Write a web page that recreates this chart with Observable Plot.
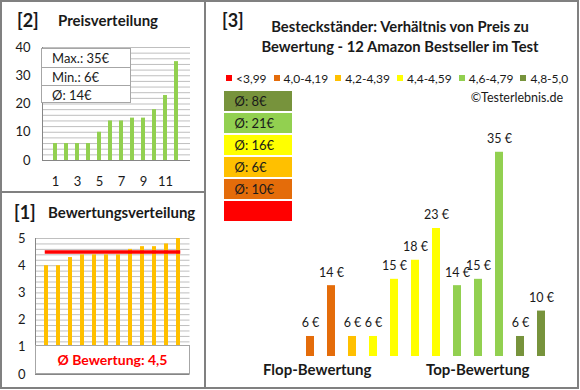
<!DOCTYPE html>
<html><head><meta charset="utf-8">
<script src="https://cdn.jsdelivr.net/npm/d3@7"></script>
<script src="https://cdn.jsdelivr.net/npm/@observablehq/plot@0.6"></script>
<style>
body{margin:0;background:#fff;}
#root{position:relative;width:580px;height:390px;font-family:Lato,"Open Sans",sans-serif;color:#111;overflow:hidden;background:#fff;}
.abs{position:absolute;}
.t{position:absolute;white-space:nowrap;}
</style></head><body><div id="root"></div>
<script>
// ---- data ----
const priceRanks = [1,2,3,4,5,6,7,8,9,10,11,12];
const sortedPrices = [6,6,6,6,10,14,14,15,15,18,23,35];
const sortedRatings = [4.0,4.0,4.3,4.4,4.4,4.4,4.4,4.6,4.7,4.7,4.8,5.0];
const priceStats = ["Max.: 35€","Min.: 6€","Ø: 14€"];
const avgRating = 4.5;
const avgRatingLabel = "Ø Bewertung: 4,5";
const productPrices = [6,14,6,6,15,18,23,14,15,35,6,10];
const productClass = [1,1,2,3,3,3,3,4,4,4,5,5];
const ratingClasses = ["<3,99","4,0-4,19","4,2-4,39","4,4-4,59","4,6-4,79","4,8-5,0"];
const classColors = ["#FF0000","#E46C0A","#FFC000","#FFFF00","#92D050","#77933C"];
const classAvgLabels = ["","Ø: 10€","Ø: 6€","Ø: 16€","Ø: 21€","Ø: 8€"];
const priceTicks = [0,10,20,30,40];
const rankTicks = [1,3,5,7,9,11];
const ratingTicks = [0,1,2,3,4,5];

const root = document.getElementById("root");
function add(el, css){ Object.assign(el.style, css); root.appendChild(el); return el; }
function div(css, text, cls){ const d=document.createElement("div"); d.className=cls||"abs"; if(text!==undefined) d.textContent=text; return add(d, css); }
function place(svg, left, top){ svg.style.position="absolute"; svg.style.left=left+"px"; svg.style.top=top+"px"; root.appendChild(svg); }
const font = "Lato";
const txt = "#1a1a1a";

// ---- Panel 2: Preisverteilung ----
const p2 = Plot.plot({
  width: 200, height: 192,
  marginLeft: 42, marginRight: 10, marginTop: 47, marginBottom: 32,
  style: {fontFamily: font, fontSize: "13px", color: txt, background: "transparent", overflow: "visible"},
  x: {type: "band", domain: priceRanks, padding: 0.6, label: null, ticks: rankTicks, tickSize: 0, tickPadding: 16},
  y: {domain: [0,40], ticks: priceTicks, tickSize: 0, tickPadding: 12, label: null},
  marks: [
    Plot.ruleY(d3.range(2, 41, 2), {stroke: "#bfbfbf"}),
    Plot.barY(priceRanks.map((r,i)=>({rank:r, price:sortedPrices[i]})), {x:"rank", y:"price", fill:"#92D050"}),
    Plot.ruleY([0], {stroke:"#868686"}),
    Plot.frame({anchor:"left", stroke:"#868686"})
  ]
});
place(p2, 0, 0);
// stats box
const box = div({left:"41px", top:"48px", width:"90px", height:"55px", background:"#fff", border:"1px solid #a6a6a6", boxSizing:"border-box"});
priceStats.forEach((s,i)=>{
  const r=document.createElement("div");
  r.textContent=s;
  Object.assign(r.style,{height:"18px",lineHeight:"18px",paddingLeft:"10px",fontSize:"13px",color:txt,borderTop:i?"1px solid #a6a6a6":"none",boxSizing:"border-box"});
  box.appendChild(r);
});
div({left:"17px", top:"9px", fontSize:"18px", fontWeight:"bold", lineHeight:"22px", color:txt}, "[2]", "t");
div({left:"58px", top:"10px", fontSize:"15px", fontWeight:"bold", lineHeight:"20px", color:txt}, "Preisverteilung", "t");

// ---- Panel 1: Bewertungsverteilung ----
const p1 = Plot.plot({
  width: 200, height: 196,
  marginLeft: 35, marginRight: 10.5, marginTop: 46, marginBottom: 14,
  style: {fontFamily: font, fontSize: "13px", color: txt, background: "transparent", overflow: "visible"},
  x: {type: "band", domain: priceRanks, padding: 0.64, axis: null},
  y: {domain: [0,5], ticks: ratingTicks, tickFormat: "d", tickSize: 0, tickPadding: 10, label: null},
  marks: [
    Plot.ruleY(d3.range(1, 26).map(k=>k*0.2), {stroke: "#bfbfbf"}),
    Plot.barY(priceRanks.map((r,i)=>({rank:r, rating:sortedRatings[i]})), {x:"rank", y:"rating", fill:"#FFC000"}),
    Plot.ruleY([0], {stroke:"#868686"}),
    Plot.frame({anchor:"left", stroke:"#868686"}),
    Plot.lineY(priceRanks.map(r=>({rank:r, v:avgRating})), {x:"rank", y:"v", stroke:"#FF0000", strokeWidth:3.5, strokeLinecap:"square"})
  ]
});
place(p1, 0, 192);
div({left:"35px", top:"345px", width:"155px", height:"29px", background:"#fff", border:"1px solid #a6a6a6", boxSizing:"border-box", color:"#FF0000", fontWeight:"bold", fontSize:"14px", textAlign:"center", lineHeight:"28px"}, avgRatingLabel);
div({left:"14px", top:"201px", fontSize:"18px", fontWeight:"bold", lineHeight:"22px", color:txt}, "[1]", "t");
div({left:"48px", top:"202px", fontSize:"15px", fontWeight:"bold", lineHeight:"20px", color:txt}, "Bewertungsverteilung", "t");

// ---- Panel 3 ----
const prod = productPrices.map((p,i)=>({i, price:p, color: classColors[productClass[i]]}));
const p3 = Plot.plot({
  width: 375, height: 390,
  marginLeft: 85.8, marginRight: 20.8, marginTop: 120, marginBottom: 34,
  style: {fontFamily: font, fontSize: "12.5px", color: txt, background: "transparent", overflow: "visible"},
  x: {type: "band", domain: d3.range(productPrices.length), padding: 0.62, axis: null},
  y: {domain: [2.85, 40], clamp: true, axis: null},
  color: {type: "identity"},
  marks: [
    Plot.barY(prod, {x:"i", y:"price", fill:"color"}),
    Plot.text(prod, {x:"i", y:"price", text: d=>d.price+" €", dy:-13, fill: txt})
  ]
});
place(p3, 205, 0);

// class average boxes
const cls = ratingClasses.map((c,k)=>({c, color:classColors[k], label:classAvgLabels[k]})).reverse();
const pBoxes = Plot.plot({
  width: 68, height: 135.4,
  margin: 0,
  style: {fontFamily: font, fontSize: "13px", color: txt, background: "transparent", overflow: "visible"},
  x: {domain: [0,1], axis: null},
  y: {type: "band", domain: cls.map(d=>d.c), padding: 0.1, axis: null},
  color: {type: "identity"},
  marks: [
    Plot.barX(cls, {y:"c", x1:0, x2:1, fill:"color"}),
    Plot.text(cls, {y:"c", x:0, dx:10, text:"label", textAnchor:"start", fill: txt})
  ]
});
place(pBoxes, 224, 87.8);

// legend
const leg = div({left:"226px", top:"70px", height:"16px", display:"flex", alignItems:"center", fontSize:"12px", color:txt, whiteSpace:"nowrap"});
ratingClasses.forEach((c,k)=>{
  const it=document.createElement("span");
  Object.assign(it.style,{display:"inline-flex",alignItems:"center",marginRight:k<5?"7px":"0"});
  const sq=document.createElement("span");
  Object.assign(sq.style,{display:"inline-block",width:"6px",height:"6px",background:classColors[k],marginRight:"4px"});
  it.appendChild(sq);
  it.appendChild(document.createTextNode(c));
  leg.appendChild(it);
});
div({left:"430px", width:"133px", top:"89px", lineHeight:"18px", textAlign:"right", fontSize:"12.5px", color:txt}, "©Testerlebnis.de");

div({left:"222px", top:"9px", fontSize:"18px", fontWeight:"bold", lineHeight:"22px", color:txt}, "[3]", "t");
div({left:"205px", width:"390px", top:"16px", textAlign:"center", fontSize:"14.8px", fontWeight:"bold", lineHeight:"20px", color:txt}, "Besteckständer: Verhältnis von Preis zu");
div({left:"205px", width:"390px", top:"36px", textAlign:"center", fontSize:"14.8px", fontWeight:"bold", lineHeight:"20px", color:txt}, "Bewertung - 12 Amazon Bestseller im Test");
div({left:"263px", top:"359px", fontSize:"15px", fontWeight:"bold", lineHeight:"20px", color:txt}, "Flop-Bewertung", "t");
div({left:"426px", top:"359px", fontSize:"15px", fontWeight:"bold", lineHeight:"20px", color:txt}, "Top-Bewertung", "t");

// frames
div({left:"0px", top:"0px", width:"579px", height:"389px", border:"2px solid #808080", boxSizing:"border-box"});
div({left:"204px", top:"0px", width:"2px", height:"389px", background:"#808080"});
div({left:"0px", top:"191px", width:"205px", height:"2px", background:"#808080"});
</script></body></html>
